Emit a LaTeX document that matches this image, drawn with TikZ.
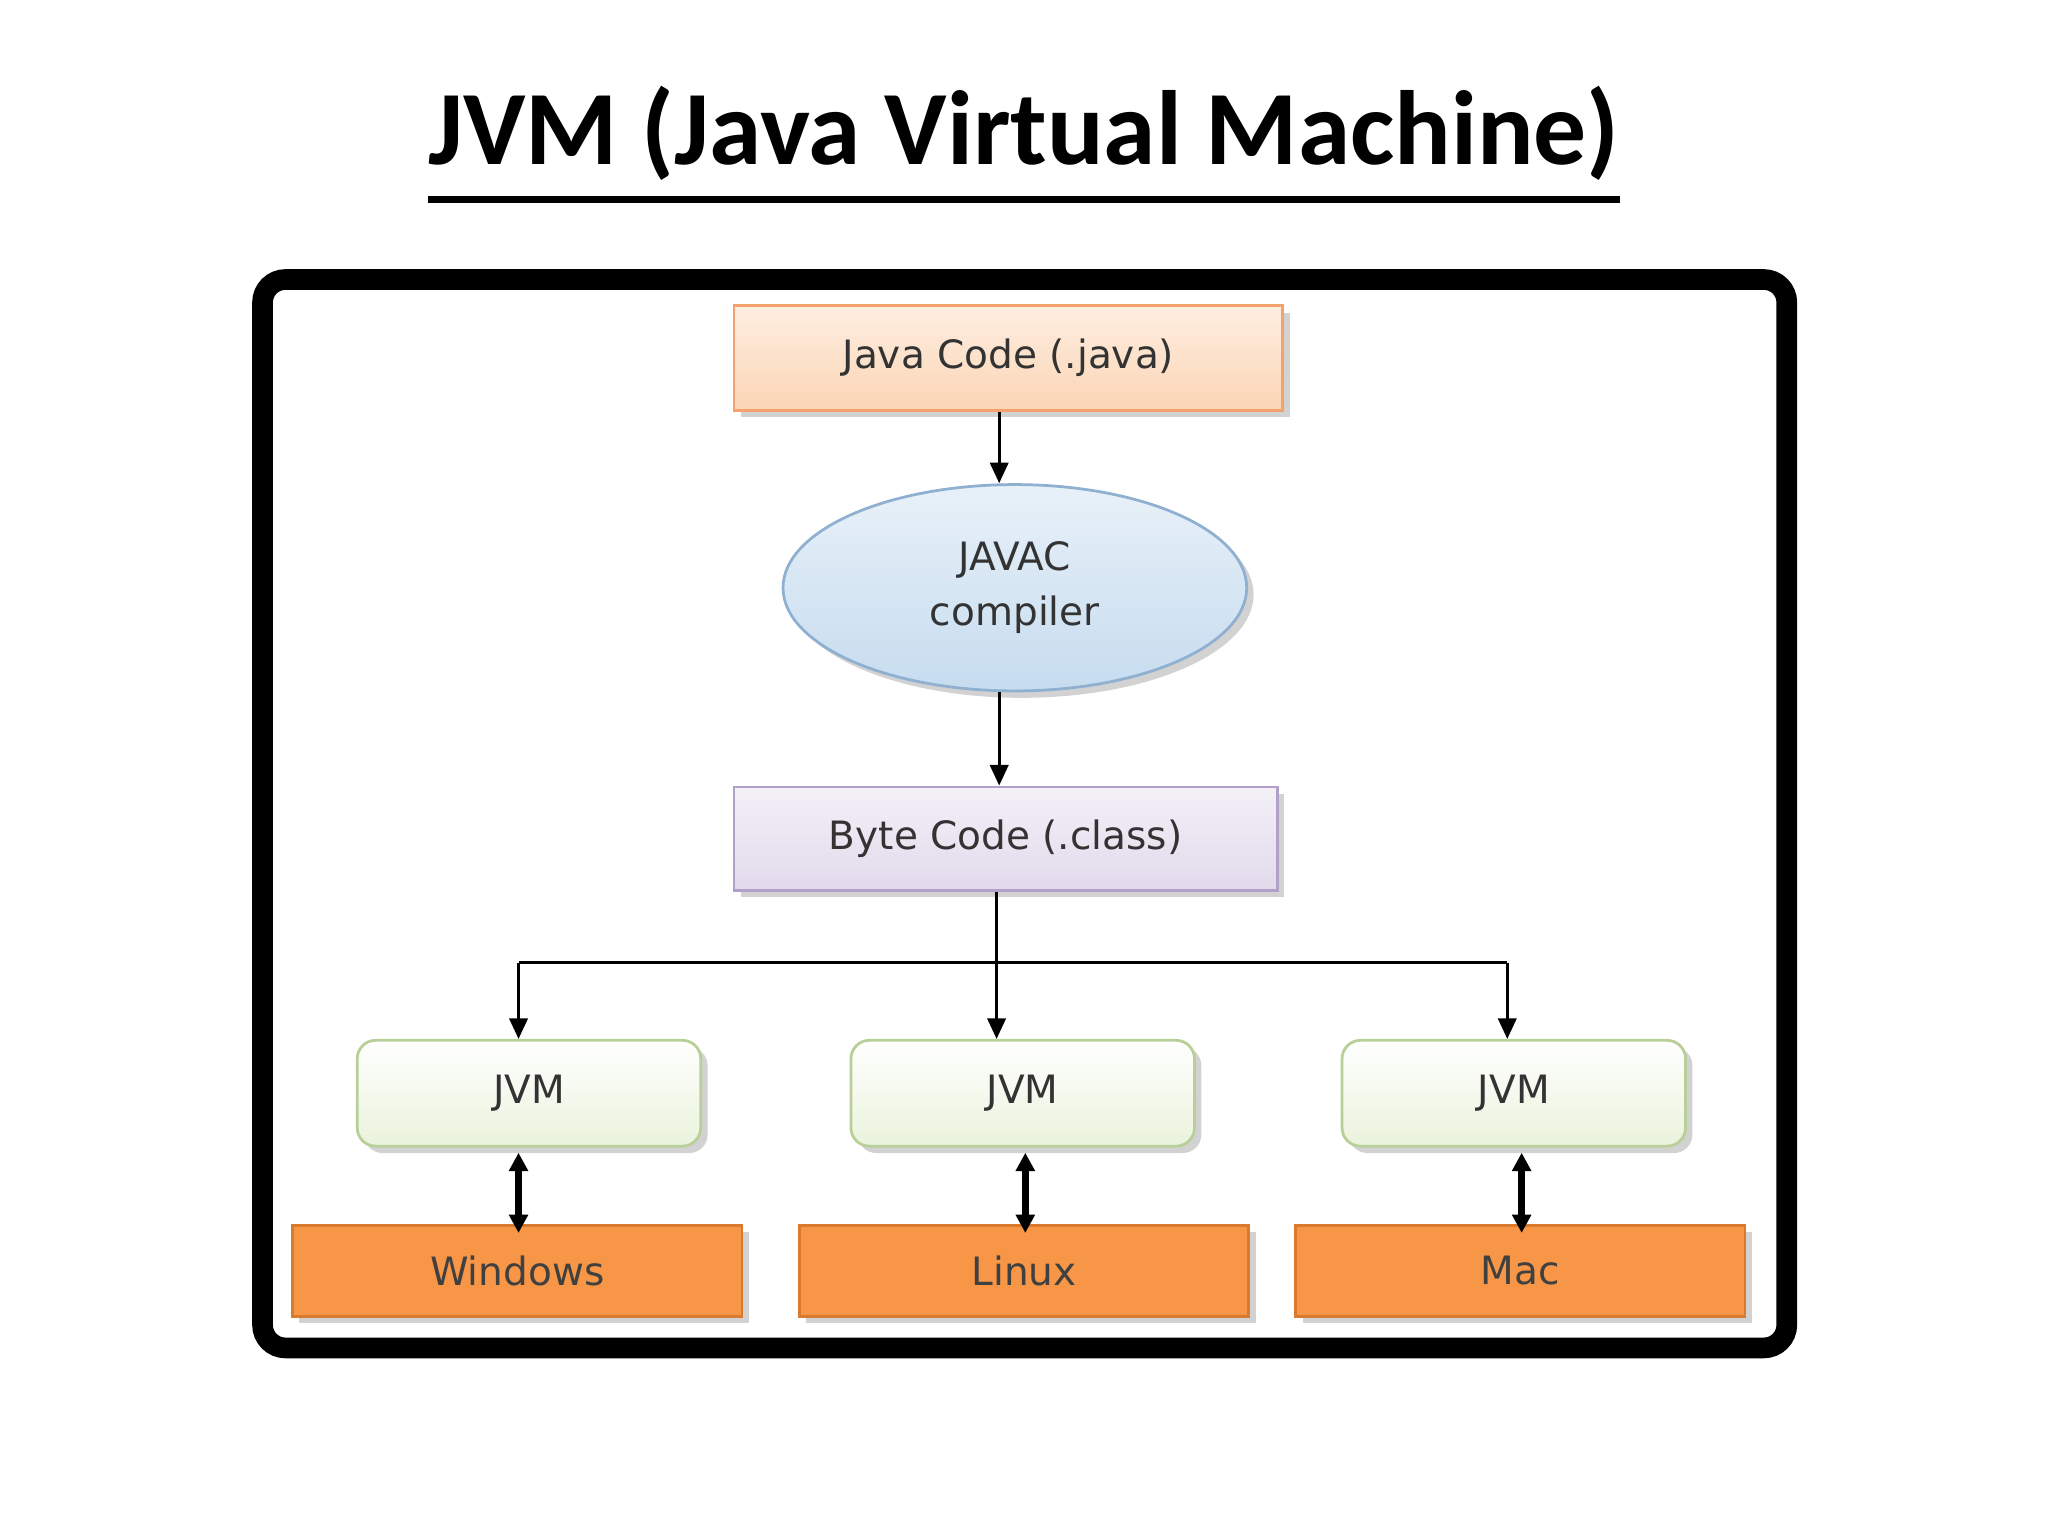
\documentclass[tikz,border=0pt]{standalone}
\usepackage{fontspec}
\setmainfont{DejaVu Sans}
\newfontfamily\titlefont{Carlito}
\usetikzlibrary{shapes.geometric,arrows.meta,shadows}
\definecolor{orlight}{HTML}{FBD5B5}
\definecolor{orline}{HTML}{F2A36B}
\definecolor{blfill}{HTML}{C6DCEF}
\definecolor{blline}{HTML}{8FB0D0}
\definecolor{lvfill}{HTML}{E2DAEC}
\definecolor{lvline}{HTML}{B1A0C7}
\definecolor{grfill}{HTML}{EAF3DC}
\definecolor{grline}{HTML}{B9CF98}
\definecolor{osfill}{HTML}{F79646}
\definecolor{osline}{HTML}{D97A2E}
\tikzset{
  lbl/.style={font=\fontsize{17}{24}\selectfont, text=black!80},
  sbox/.style={draw, line width=1.2pt, drop shadow={shadow xshift=3pt,shadow yshift=-3pt,opacity=0.35}},
  arr/.style={-{Triangle[length=9pt,width=8pt]}, line width=1.3pt},
  darr/.style={{Triangle[length=8pt,width=8pt]}-{Triangle[length=8pt,width=8pt]}, line width=3pt},
}
\begin{document}
\begin{tikzpicture}[x=0.02cm,y=-0.02cm]
\useasboundingbox[fill=white] (0,0) rectangle (1568,1176);
\node[font=\titlefont\bfseries\fontsize{46}{50}\selectfont, inner sep=0pt] (title) at (784,102) {JVM (Java Virtual Machine)};
\draw[line width=3pt] ([yshift=-8pt]title.south west) -- ([yshift=-8pt]title.south east);
\draw[line width=9pt, rounded corners=10pt] (201,214) rectangle (1368,1032);
\node[sbox, draw=orline, top color=white!60!orlight, bottom color=orlight, minimum width=420*0.02cm, minimum height=80*0.02cm, lbl] (java) at (772,274) {Java Code (.java)};
\node[sbox, ellipse, draw=blline, top color=blfill!40, bottom color=blfill, minimum width=355*0.02cm, minimum height=158*0.02cm, lbl, align=center] (javac) at (777,450) {JAVAC\\compiler};
\node[sbox, draw=lvline, top color=lvfill!40, bottom color=lvfill, minimum width=416*0.02cm, minimum height=79*0.02cm, lbl] (byte) at (770,642) {Byte Code (.class)};
\foreach \n/\x in {j1/405, j2/783, j3/1159}{
  \node[sbox, rounded corners=8pt, draw=grline, top color=white, bottom color=grfill, minimum width=263*0.02cm, minimum height=81*0.02cm, lbl] (\n) at (\x,837) {JVM};
}
\foreach \n/\x/\t in {w/396/Windows, l/784/Linux, m/1164/Mac}{
  \node[sbox, draw=osline, fill=osfill, minimum width=344*0.02cm, minimum height=70*0.02cm, lbl, text=black!75] (\n) at (\x,973) {\t};
}
\draw[arr] (java.south -| 765,0) -- (javac.north -| 765,0);
\draw[arr] (javac.south -| 765,0) -- (byte.north -| 765,0);
\coordinate (hl) at (397,737);
\coordinate (hr) at (1154,737);
\draw[line width=1.3pt] (hl) -- (hr);
\draw[arr] (byte.south -| 763,0) -- (j2.north -| 763,0);
\draw[arr] (hl) -- (j1.north -| hl);
\draw[arr] (hr) -- (j3.north -| hr);
\draw[darr] (j1.south -| 397,0) ++(0,4) -- ([yshift=-4]w.north -| 397,0);
\draw[darr] (j2.south -| 785,0) ++(0,4) -- ([yshift=-4]l.north -| 785,0);
\draw[darr] (j3.south -| 1165,0) ++(0,4) -- ([yshift=-4]m.north -| 1165,0);
\end{tikzpicture}
\end{document}
